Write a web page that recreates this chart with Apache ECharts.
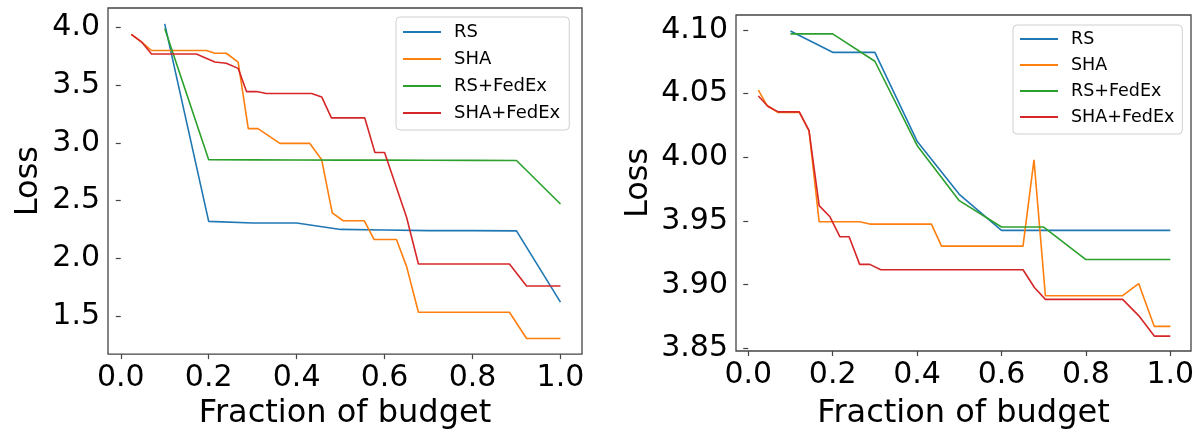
<!DOCTYPE html>
<html>
<head>
<meta charset="utf-8">
<script src="https://cdn.jsdelivr.net/npm/echarts@6/dist/echarts.min.js"></script>
<style>
  html, body { margin: 0; padding: 0; background: #fff; }
  #chart { width: 1199px; height: 435px; }
</style>
</head>
<body>
<div id="chart"></div>
<script>
// Series names (shared by both panels)
const seriesNames = ['RS', 'SHA', 'RS+FedEx', 'SHA+FedEx'];
const seriesColors = ['#1f77b4', '#ff7f0e', '#2ca02c', '#d62728'];

// Tick values
const leftYTicks = [1.5, 2.0, 2.5, 3.0, 3.5, 4.0];
const rightYTicks = [3.85, 3.90, 3.95, 4.00, 4.05, 4.10];
const xTicks = [0.0, 0.2, 0.4, 0.6, 0.8, 1.0];

// Left panel
const leftRsX = [0.1, 0.2, 0.3, 0.4, 0.5, 0.6, 0.7, 0.8, 0.9, 1.0];
const leftRsY = [4.03, 2.32, 2.305, 2.305, 2.25, 2.245, 2.24, 2.24, 2.237, 1.62];

const leftShaX = [0.024, 0.047, 0.07, 0.195, 0.214, 0.24, 0.267, 0.29, 0.312, 0.362, 0.43, 0.457, 0.481, 0.506, 0.554, 0.576, 0.627, 0.65, 0.677, 0.884, 0.923, 1.0];
const leftShaY = [3.94, 3.875, 3.80, 3.80, 3.776, 3.776, 3.70, 3.123, 3.123, 2.995, 2.995, 2.853, 2.393, 2.325, 2.325, 2.163, 2.163, 1.93, 1.532, 1.532, 1.305, 1.305];

const leftRsFedX = [0.1, 0.2, 0.3, 0.4, 0.5, 0.6, 0.7, 0.8, 0.9, 1.0];
const leftRsFedY = [3.99, 2.853, 2.852, 2.851, 2.85, 2.85, 2.849, 2.848, 2.847, 2.47];

const leftShaFedX = [0.024, 0.047, 0.07, 0.172, 0.214, 0.24, 0.267, 0.286, 0.309, 0.331, 0.434, 0.457, 0.479, 0.555, 0.578, 0.60, 0.65, 0.677, 0.884, 0.923, 1.0];
const leftShaFedY = [3.94, 3.875, 3.77, 3.77, 3.70, 3.69, 3.645, 3.444, 3.444, 3.427, 3.427, 3.398, 3.216, 3.216, 2.916, 2.916, 2.356, 1.95, 1.95, 1.76, 1.76];

// Right panel
const rightRsX = [0.1, 0.2, 0.3, 0.4, 0.5, 0.6, 0.7, 0.8, 0.9, 1.0];
const rightRsY = [4.0992, 4.0824, 4.0824, 4.0127, 3.971, 3.9427, 3.9427, 3.9427, 3.9427, 3.9427];

const rightShaX = [0.024, 0.044, 0.071, 0.121, 0.144, 0.168, 0.264, 0.288, 0.434, 0.458, 0.651, 0.677, 0.704, 0.887, 0.925, 0.962, 1.0];
const rightShaY = [4.0528, 4.0409, 4.0352, 4.0352, 4.021, 3.9494, 3.9494, 3.9476, 3.9476, 3.9303, 3.9303, 3.998, 3.8914, 3.8914, 3.9009, 3.8673, 3.8673];

const rightRsFedX = [0.1, 0.2, 0.3, 0.4, 0.5, 0.6, 0.7, 0.8, 0.9, 1.0];
const rightRsFedY = [4.0969, 4.0969, 4.0754, 4.0093, 3.966, 3.9453, 3.9453, 3.9198, 3.9198, 3.9198];

const rightShaFedX = [0.024, 0.047, 0.071, 0.121, 0.144, 0.168, 0.193, 0.217, 0.239, 0.264, 0.288, 0.314, 0.651, 0.678, 0.704, 0.887, 0.925, 0.962, 1.0];
const rightShaFedY = [4.0481, 4.0399, 4.0357, 4.0357, 4.021, 3.9621, 3.9536, 3.9377, 3.9377, 3.916, 3.916, 3.9118, 3.9118, 3.8978, 3.8885, 3.8885, 3.8758, 3.8597, 3.8597];

const FONT = 'DejaVu Sans';
const zip = (xs, ys) => xs.map((x, i) => [x, ys[i]]);

const leftData = [zip(leftRsX, leftRsY), zip(leftShaX, leftShaY), zip(leftRsFedX, leftRsFedY), zip(leftShaFedX, leftShaFedY)];
const rightData = [zip(rightRsX, rightRsY), zip(rightShaX, rightShaY), zip(rightRsFedX, rightRsFedY), zip(rightShaFedX, rightShaFedY)];

function xAxisFor(gridIndex, nameGap) {
  return {
    type: 'value', gridIndex, min: -0.029, max: 1.049,
    name: 'Fraction of budget', nameLocation: 'middle', nameGap,
    nameTextStyle: { fontFamily: FONT, fontSize: 32, color: '#000' },
    splitLine: { show: false },
    axisLine: { show: false },
    axisTick: { show: true, length: 5, customValues: xTicks, lineStyle: { color: '#444', width: 1.2 } },
    axisLabel: { customValues: xTicks, margin: 9, fontFamily: FONT, fontSize: 30, color: '#000',
      formatter: v => v.toFixed(1) }
  };
}
function yAxisFor(gridIndex, min, max, ticks, digits, nameGap) {
  return {
    type: 'value', gridIndex, min, max,
    name: 'Loss', nameLocation: 'middle', nameGap, nameRotate: 90,
    nameTextStyle: { fontFamily: FONT, fontSize: 32, color: '#000' },
    splitLine: { show: false },
    axisLine: { show: false },
    axisTick: { show: true, length: 5, customValues: ticks, lineStyle: { color: '#444', width: 1.2 } },
    axisLabel: { customValues: ticks, margin: 8, fontFamily: FONT, fontSize: 30, color: '#000',
      formatter: v => v.toFixed(digits) }
  };
}
function legendFor(left, top, fontSize, gap, padding) {
  return {
    orient: 'vertical', left, top,
    data: seriesNames,
    icon: 'rect', itemWidth: 38, itemHeight: 2, itemGap: gap,
    padding,
    backgroundColor: 'rgba(255,255,255,0.85)',
    borderColor: '#d0d0d0', borderWidth: 1, borderRadius: 4,
    textStyle: { fontFamily: FONT, fontSize, color: '#000', lineHeight: 20, padding: [0, 0, 0, 8] }
  };
}

const series = [];
[leftData, rightData].forEach((panel, gi) => {
  panel.forEach((d, si) => {
    series.push({
      name: seriesNames[si], type: 'line', xAxisIndex: gi, yAxisIndex: gi,
      data: d, symbol: 'none', animation: false,
      lineStyle: { color: seriesColors[si], width: 1.6 },
      itemStyle: { color: seriesColors[si] }
    });
  });
});

const chart = echarts.init(document.getElementById('chart'), null, { renderer: 'canvas' });
chart.setOption({
  backgroundColor: '#fff',
  animation: false,
  grid: [
    { left: 108, right: 617, top: 8, bottom: 77, show: true, borderColor: '#444', borderWidth: 1.3, backgroundColor: 'transparent' },
    { left: 736, right: 8, top: 15, bottom: 81, show: true, borderColor: '#444', borderWidth: 1.3, backgroundColor: 'transparent' }
  ],
  xAxis: [xAxisFor(0, 41), xAxisFor(1, 47)],
  yAxis: [
    yAxisFor(0, 1.17, 4.168, leftYTicks, 1, 63),
    yAxisFor(1, 3.848, 4.1117, rightYTicks, 2, 81)
  ],
  legend: [
    legendFor(396, 17, 18, 7, [5, 9, 7, 7]),
    legendFor(1013, 25, 17.5, 6, [4, 8, 7, 7])
  ],
  series
});
</script>
</body>
</html>
